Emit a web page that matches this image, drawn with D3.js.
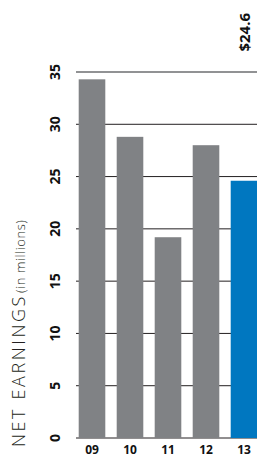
<!DOCTYPE html>
<html>
<head>
<meta charset="utf-8">
<script src="https://cdn.jsdelivr.net/npm/d3@7"></script>
<style>
  html, body { margin: 0; padding: 0; background: #fff; }
  svg { display: block; }
  text { font-family: "Open Sans", "DejaVu Sans", sans-serif; }
</style>
</head>
<body>
<div id="root"></div>
<script>
var years = ['09', '10', '11', '12', '13'];
var earnings = [34.3, 28.8, 19.2, 28.0, 24.6];
var ticks = [0, 5, 10, 15, 20, 25, 30, 35];
var highlightLabel = '$24.6';

var w = 257;
var h = 457;
var root = d3.select('#root');
var svg = root.append('svg')
  .attr('width', w)
  .attr('height', h);

var y = d3.scaleLinear()
  .domain([0, 35])
  .range([438, 72]);

var x = d3.scaleBand()
  .domain(years)
  .range([73, 263])
  .paddingInner(0.3)
  .paddingOuter(0.15);

// grid lines
svg.append('g')
  .attr('id', 'grid')
  .selectAll('line')
  .data(ticks)
  .enter()
  .append('line')
  .attr('x1', 76)
  .attr('x2', w)
  .attr('y1', function(d) { return y(d); })
  .attr('y2', function(d) { return y(d); })
  .attr('stroke', function(d) { return d === 35 ? '#6d6e71' : '#231f20'; })
  .attr('stroke-width', function(d) { return d === 35 ? 1.4 : 1; });

// bars
svg.append('g')
  .attr('id', 'bars')
  .selectAll('rect')
  .data(earnings)
  .enter()
  .append('rect')
  .attr('x', function(d, i) { return x(years[i]); })
  .attr('y', function(d) { return y(d); })
  .attr('width', x.bandwidth())
  .attr('height', function(d) { return y(0) - y(d); })
  .attr('fill', function(d, i) { return i === years.length - 1 ? '#0077c0' : '#808285'; });

// y tick labels (rotated)
svg.append('g')
  .selectAll('text')
  .data(ticks)
  .enter()
  .append('text')
  .attr('transform', function(d) { return 'translate(60,' + y(d) + ') rotate(-90)'; })
  .attr('text-anchor', 'middle')
  .attr('font-size', 14)
  .attr('font-weight', 'bold')
  .attr('fill', '#111')
  .text(function(d) { return d; });

// x labels
svg.append('g')
  .selectAll('text')
  .data(years)
  .enter()
  .append('text')
  .attr('x', function(d) { return x(d) + x.bandwidth() / 2; })
  .attr('y', 454)
  .attr('text-anchor', 'middle')
  .attr('font-size', 12)
  .attr('font-weight', 'bold')
  .attr('fill', '#111')
  .text(function(d) { return d; });

// value label on last bar
var last = years.length - 1;
svg.append('text')
  .attr('transform', 'translate(' + (x(years[last]) + x.bandwidth() / 2 + 6) + ',13) rotate(-90)')
  .attr('text-anchor', 'end')
  .attr('font-size', 15)
  .attr('font-weight', 'bold')
  .attr('fill', '#111')
  .text(highlightLabel);

// axis title
var title = svg.append('text')
  .attr('transform', 'translate(25,447) rotate(-90)')
  .attr('fill', '#231f20')
  .attr('font-weight', 300);
title.append('tspan')
  .attr('font-size', 18)
  .attr('letter-spacing', 2.6)
  .text('NET EARNINGS');
title.append('tspan')
  .attr('font-size', 13)
  .attr('letter-spacing', 0.6)
  .attr('dx', 1)
  .text('(in millions)');
</script>
</body>
</html>
